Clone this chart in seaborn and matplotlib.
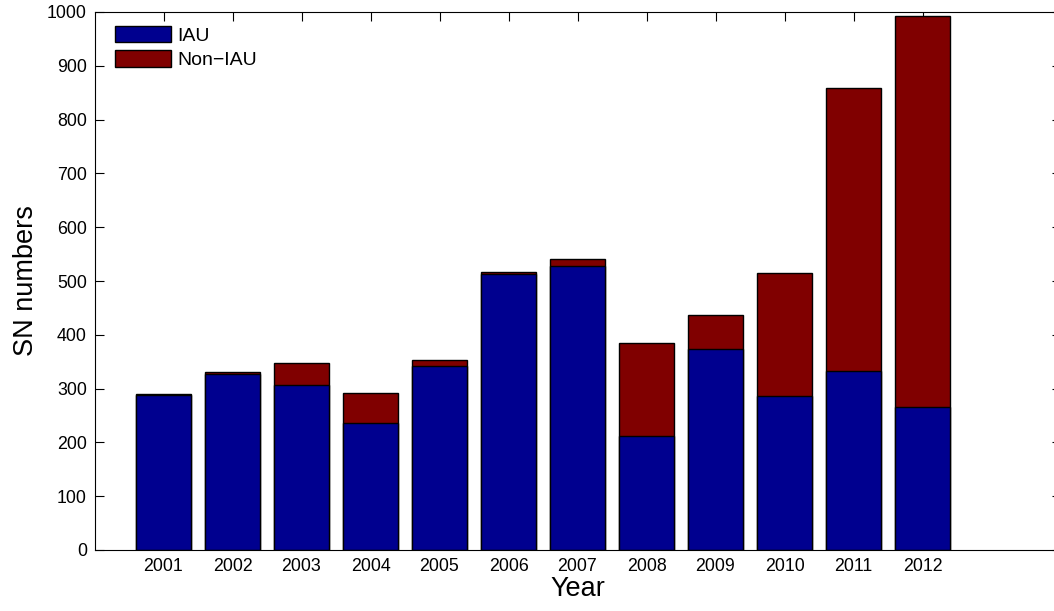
import matplotlib
matplotlib.use("Agg")
import matplotlib.pyplot as plt
from matplotlib.patches import Patch
import seaborn as sns
import pandas as pd

years = ["2001", "2002", "2003", "2004", "2005", "2006",
         "2007", "2008", "2009", "2010", "2011", "2012"]
iau = [289, 328, 306, 236, 342, 513, 527, 211, 373, 286, 333, 266]
non_iau = [1, 3, 41, 56, 12, 4, 13, 173, 64, 228, 525, 727]
series_labels = ["IAU", "Non\u2212IAU"]
yticks = [0, 100, 200, 300, 400, 500, 600, 700, 800, 900, 1000]

blue = "#00008F"
red = "#800000"

sns.set_style("ticks")
plt.rcParams["font.family"] = ["Liberation Sans", "DejaVu Sans"]
plt.rcParams["text.color"] = "black"
plt.rcParams["axes.labelcolor"] = "black"
plt.rcParams["xtick.color"] = "black"
plt.rcParams["ytick.color"] = "black"

df = pd.DataFrame({"Year": years, "IAU": iau, "NonIAU": non_iau})
df["Total"] = df["IAU"] + df["NonIAU"]

fig = plt.figure(figsize=(10.54, 6.11), dpi=100)
ax = fig.add_axes([94.5 / 1054, 61 / 611, 966 / 1054, 538 / 611])

sns.barplot(data=df, x="Year", y="Total", color=red, saturation=1,
            width=0.8, edgecolor="black", linewidth=1.0, ax=ax)
sns.barplot(data=df, x="Year", y="IAU", color=blue, saturation=1,
            width=0.8, edgecolor="black", linewidth=1.0, ax=ax)

ax.set_xlim(-1, 13)
ax.set_ylim(0, 1000)
ax.set_yticks(yticks)
ax.set_yticklabels([str(v) for v in yticks])
ax.tick_params(direction="in", top=True, right=True, length=6.5, width=0.8,
               labelsize=12.8, colors="black", pad=5.5)
for name, s in ax.spines.items():
    s.set_visible(name != "right")
    s.set_color("black")
    s.set_linewidth(0.8)

ax.set_xlabel("Year", fontsize=19.5, labelpad=1)
ax.set_ylabel("SN numbers", fontsize=19.5, labelpad=6)

handles = [Patch(facecolor=blue, edgecolor="black", linewidth=1.0),
           Patch(facecolor=red, edgecolor="black", linewidth=1.0)]
ax.legend(handles, series_labels, loc="upper left",
          bbox_to_anchor=(20 / 966, 1 - 14 / 538), borderaxespad=0,
          borderpad=0, frameon=False, fontsize=14, handlelength=2.9,
          handleheight=0.92, labelspacing=0.27, handletextpad=0.35)

fig.savefig("out.png", dpi=100)
